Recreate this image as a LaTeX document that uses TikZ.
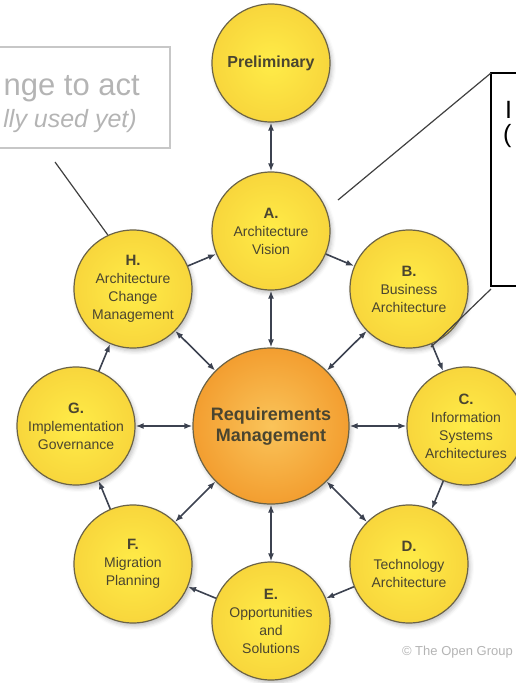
\documentclass[tikz,border=0pt]{standalone}
\usepackage{fontspec}
\setmainfont{Liberation Sans}
\usetikzlibrary{arrows.meta,shadows.blur}
\definecolor{sunin}{HTML}{FFEC48}
\definecolor{sunout}{HTML}{F8D63C}
\definecolor{corein}{HTML}{FAC45A}
\definecolor{coreout}{HTML}{F39E30}
\definecolor{rim}{HTML}{6B6347}
\definecolor{ink}{HTML}{4A4530}
\definecolor{linkc}{HTML}{3C4250}
\definecolor{pale}{HTML}{B4B4B4}
\newcommand{\phead}[1]{{\fontsize{15}{18}\selectfont\bfseries #1}}
\begin{document}
\begin{tikzpicture}[>={Latex[length=8pt,width=6pt]},x=1pt,y=-1pt,
  phase/.style={circle,draw=rim,line width=1.2pt,minimum size=118pt,inner sep=0pt,
    align=center,inner color=sunin,outer color=sunout,text=ink,
    font=\fontsize{14}{18}\selectfont,
    blur shadow={shadow xshift=2pt,shadow yshift=-3pt,shadow opacity=25,shadow blur radius=4pt}},
  core/.style={phase,minimum size=156pt,inner color=corein,outer color=coreout,
    font=\fontsize{18}{21}\selectfont\bfseries},
  link/.style={draw=linkc,line width=1.6pt},
  callout/.style={line width=1.2pt,draw=black!75}]
\useasboundingbox (0,0) rectangle (516,683);
\clip (0,0) rectangle (516,683);

% note boxes
\draw[line width=1.5pt,draw=black!22] (-10,47) rectangle (170,148);
\node[anchor=base east,inner sep=0pt,text=pale,font=\fontsize{31}{31}\selectfont] (note1) at (140,95) {nge to act};
\node[anchor=base east,inner sep=0pt,text=pale,font=\fontsize{25}{25}\selectfont\itshape] (note2) at (137,127) {lly used yet)};
\draw[line width=1.5pt] (491,73) coordinate (bnw) rectangle (620,286) coordinate (bse);
\coordinate (bsw) at (491,289);
\node[anchor=base west,inner sep=0pt,font=\fontsize{25}{25}\selectfont] (note3) at (505,118) {I};
\node[anchor=base west,inner sep=0pt,font=\fontsize{25}{25}\selectfont] (note4) at (503,142) {(};

% phases
\node[phase] (P) at (271,63) {\fontsize{16}{18}\selectfont\bfseries Preliminary};
\node[phase] (A) at (271,231) {\phead{A.}\\Architecture\\Vision};
\node[phase] (B) at (409,289) {\phead{B.}\\Business\\Architecture};
\node[phase] (C) at (466,426) {\phead{C.}\\Information\\Systems\\Architectures};
\node[phase] (D) at (409,564) {\phead{D.}\\Technology\\Architecture};
\node[phase] (E) at (271,621) {\phead{E.}\\Opportunities\\and\\Solutions};
\node[phase] (F) at (133,564) {\phead{F.}\\Migration\\Planning};
\node[phase] (G) at (76,426) {\phead{G.}\\Implementation\\Governance};
\node[phase] (H) at (133,289) {\phead{H.}\\Architecture\\Change\\Management};
\node[core] (R) at (271,426) {Requirements\\Management};

\draw[link,<->] (P) -- (A);
\foreach \a/\b in {A/B,B/C,C/D,D/E,E/F,F/G,G/H,H/A}
  \draw[link,->] (\a) -- (\b);
\foreach \n in {A,B,C,D,E,F,G,H}
  \draw[link,<->] (R) -- (\n);

% pointers
\coordinate (pa) at (338,200);
\coordinate (pb) at (431,347);
\coordinate (ph) at (55,162);
\draw[callout] (pa) -- (bnw);
\draw[callout] (bsw) -- (pb);
\draw[callout] (ph) -- (H.115);

\node[anchor=east,inner sep=0pt,text=pale,font=\fontsize{13}{13}\selectfont] (copy) at (513,652) {© The Open Group};
\end{tikzpicture}
\end{document}
